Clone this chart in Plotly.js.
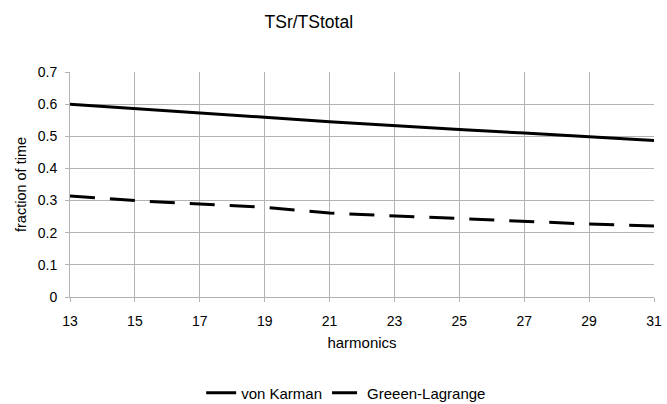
<!DOCTYPE html>
<html>
<head>
<meta charset="utf-8">
<script src="https://cdn.plot.ly/plotly-3.0.1.min.js"></script>
<style>html,body{margin:0;padding:0;background:#fff}#chart{width:667px;height:404px}</style>
</head>
<body>
<div id="chart"></div>
<script>
const harmonics = [13, 15, 17, 19, 21, 23, 25, 27, 29, 31];
const vonKarman = [0.600, 0.587, 0.573, 0.559, 0.545, 0.532, 0.521, 0.510, 0.499, 0.487];
const greeenLagrange = [0.314, 0.300, 0.289, 0.279, 0.261, 0.252, 0.244, 0.235, 0.227, 0.221];
const seriesNames = ["von Karman", "Greeen-Lagrange"];
const xTicks = [13, 15, 17, 19, 21, 23, 25, 27, 29, 31];
const yTicks = [0, 0.1, 0.2, 0.3, 0.4, 0.5, 0.6, 0.7];

const font = "Liberation Sans, Arial, sans-serif";
const traces = [
  {x: harmonics, y: vonKarman, name: seriesNames[0], mode: "lines",
   line: {color: "#000", width: 3}},
  {x: harmonics, y: greeenLagrange, name: seriesNames[1], mode: "lines",
   line: {color: "#000", width: 3, dash: "25px,15px"}}
];
const layout = {
  width: 667, height: 404,
  margin: {l: 70, r: 13, t: 72, b: 107},
  paper_bgcolor: "#fff", plot_bgcolor: "#fff",
  font: {family: font, color: "#000", size: 14},
  title: {text: "TSr/TStotal", font: {family: font, size: 17.5, color: "#000"},
          xref: "container", x: 0.463, xanchor: "center", yref: "container", y: 0.945, yanchor: "middle"},
  xaxis: {range: [13, 31], tickvals: xTicks, ticktext: xTicks.map(String),
          showgrid: true, gridcolor: "#b3b3b3", gridwidth: 1, zeroline: false,
          showline: true, linecolor: "#b3b3b3", ticks: "outside", ticklen: 4, tickcolor: "#b3b3b3",
          ticklabelstandoff: 7,
          tickfont: {size: 14}, title: {text: "harmonics", font: {size: 15}, standoff: 9}},
  yaxis: {range: [0, 0.7], tickvals: yTicks, ticktext: yTicks.map(v => v === 0 ? "0" : v.toFixed(1)),
          showgrid: true, gridcolor: "#b3b3b3", gridwidth: 1, zeroline: false,
          showline: true, linecolor: "#b3b3b3", ticks: "outside", ticklen: 4, tickcolor: "#b3b3b3",
          ticklabelstandoff: 5,
          tickfont: {size: 14}, title: {text: "fraction of time", font: {size: 14.5}, standoff: 7}},
  showlegend: true,
  legend: {orientation: "h", x: 0.519, xanchor: "center", xref: "container",
           y: 0.027, yref: "container", yanchor: "middle", font: {size: 15}}
};
Plotly.newPlot("chart", traces, layout, {displayModeBar: false, staticPlot: true});
</script>
</body>
</html>
